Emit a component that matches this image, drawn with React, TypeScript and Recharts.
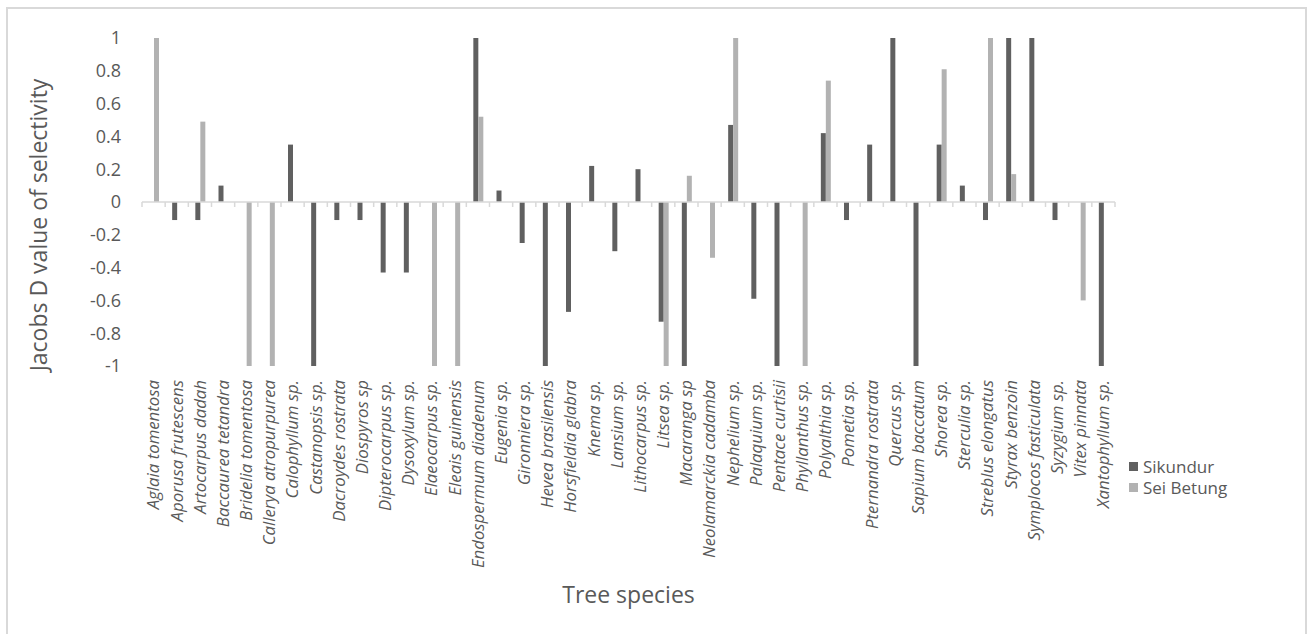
import React from "react";
import { BarChart, Bar, XAxis, YAxis, ReferenceLine, Legend, Label } from "recharts";

// Tree species (category axis)
const species = [
  "Aglaia tomentosa", "Aporusa frutescens", "Artocarpus dadah", "Baccaurea tetandra",
  "Bridelia tomentosa", "Callerya atropurpurea", "Calophyllum sp.", "Castanopsis sp.",
  "Dacroydes rostrata", "Diospyros sp", "Dipterocarpus sp.", "Dysoxylum sp.",
  "Elaeocarpus sp.", "Eleais guinensis", "Endospermum diadenum", "Eugenia sp.",
  "Gironniera sp.", "Hevea brasilensis", "Horsfieldia glabra", "Knema sp.",
  "Lansium sp.", "Lithocarpus sp.", "Litsea sp.", "Macaranga sp",
  "Neolamarckia cadamba", "Nephelium sp.", "Palaquium sp.", "Pentace curtisii",
  "Phyllanthus sp.", "Polyalthia sp.", "Pometia sp.", "Pternandra rostrata",
  "Quercus sp.", "Sapium baccatum", "Shorea sp.", "Sterculia sp.",
  "Streblus elongatus", "Styrax benzoin", "Symplocos fasticulata", "Syzygium sp.",
  "Vitex pinnata", "Xantophyllum sp.",
];

// Jacobs D selectivity, Sikundur
const sikundur = [
  0, -0.11, -0.11, 0.1, 0, 0, 0.35, -1,
  -0.11, -0.11, -0.43, -0.43, 0, 0, 1, 0.07,
  -0.25, -1, -0.67, 0.22, -0.3, 0.2, -0.73, -1,
  0, 0.47, -0.59, -1, 0, 0.42, -0.11, 0.35,
  1, -1, 0.35, 0.1, -0.11, 1, 1, -0.11,
  0, -1,
];

// Jacobs D selectivity, Sei Betung
const seiBetung = [
  1, 0, 0.49, 0, -1, -1, 0, 0,
  0, 0, 0, 0, -1, -1, 0.52, 0,
  0, 0, 0, 0, 0, 0, -1, 0.16,
  -0.34, 1, 0, 0, -1, 0.74, 0, 0,
  0, 0, 0.81, 0, 1, 0.17, 0, 0,
  -0.6, 0,
];

const seriesNames = ["Sikundur", "Sei Betung"];

const yTicks = [-1, -0.8, -0.6, -0.4, -0.2, 0, 0.2, 0.4, 0.6, 0.8, 1];

const data = species.map((name, i) => ({
  name,
  [seriesNames[0]]: sikundur[i],
  [seriesNames[1]]: seiBetung[i],
}));

const DARK = "#606060";
const LIGHT = "#b2b2b2";
const TEXT = "#595959";
const GRID = "#d9d9d9";

// Rotated italic species label under the plot
const SpeciesTick = (props: any) => {
  const { x, y, payload } = props;
  return (
    <g transform={`translate(${x},${y + 6})`}>
      <text
        transform="rotate(-90)"
        textAnchor="end"
        dy="0.35em"
        fill={TEXT}
        fontSize={16.8}
        fontStyle="italic"
      >
        {payload.value}
      </text>
    </g>
  );
};

// Zero line with tick marks on every category boundary
const ZeroAxis = (props: any) => {
  const { x1, y1, x2 } = props;
  const n = species.length;
  const step = (x2 - x1) / n;
  const marks = [];
  for (let i = 0; i <= n; i++) {
    const tx = x1 + i * step;
    marks.push(<line key={i} x1={tx} x2={tx} y1={y1} y2={y1 + 5} stroke={GRID} strokeWidth={1.5} />);
  }
  return (
    <g>
      <line x1={x1} x2={x2} y1={y1} y2={y1} stroke={GRID} strokeWidth={1.5} />
      {marks}
    </g>
  );
};

const YTitle = (props: any) => {
  const vb = props.viewBox || {};
  const cx = vb.x + 30;
  const cy = vb.y + vb.height / 2 + 23;
  return (
    <text
      x={cx}
      y={cy}
      transform={`rotate(-90, ${cx}, ${cy})`}
      textAnchor="middle"
      dominantBaseline="central"
      fill={TEXT}
      fontSize={23}
    >
      Jacobs D value of selectivity
    </text>
  );
};

const LegendBox = (props: any) => {
  const items = [...(props.payload || [])].sort(
    (a: any, b: any) => seriesNames.indexOf(a.value) - seriesNames.indexOf(b.value)
  );
  return (
    <div>
      {items.map((it: any) => (
        <div key={it.value} style={{ display: "flex", alignItems: "center", height: 21 }}>
          <span style={{ width: 9, height: 9, background: it.color, marginRight: 5, display: "inline-block" }} />
          <span style={{ fontSize: 17, color: TEXT, lineHeight: "21px" }}>{it.value}</span>
        </div>
      ))}
    </div>
  );
};

export default function App() {
  return (
    <div
      style={{
        position: "absolute",
        left: 6,
        top: 7,
        width: 1301,
        height: 627,
        border: `2px solid ${GRID}`,
        borderBottom: "none",
        boxSizing: "border-box",
        overflow: "hidden",
        fontFamily: "'Open Sans', sans-serif",
      }}
    >
      <BarChart
        width={1297}
        height={610}
        data={data}
        margin={{ top: 29, right: 190, bottom: 0, left: 0 }}
        barSize={5}
        barGap={0}
        style={{ fontFamily: "'Open Sans', sans-serif" }}
      >
        <XAxis
          dataKey="name"
          interval={0}
          height={253}
          axisLine={false}
          tickLine={false}
          tick={<SpeciesTick />}
        >
          <Label value="Tree species" position="insideBottom" offset={16} fill={TEXT} fontSize={23} />
        </XAxis>
        <YAxis
          width={134}
          domain={[-1, 1]}
          ticks={yTicks}
          interval={0}
          axisLine={false}
          tickLine={false}
          tickSize={6}
          tickMargin={15}
          tick={{ fill: TEXT, fontSize: 18 }}
        >
          <Label content={<YTitle />} />
        </YAxis>
        <ReferenceLine y={0} shape={<ZeroAxis />} />
        <Legend
          layout="vertical"
          align="center"
          verticalAlign="middle"
          content={<LegendBox />}
          wrapperStyle={{ left: 1121, top: 447, width: 160, height: 42 }}
        />
        <Bar dataKey={seriesNames[0]} fill={DARK} isAnimationActive={false} />
        <Bar dataKey={seriesNames[1]} fill={LIGHT} isAnimationActive={false} />
      </BarChart>
    </div>
  );
}
